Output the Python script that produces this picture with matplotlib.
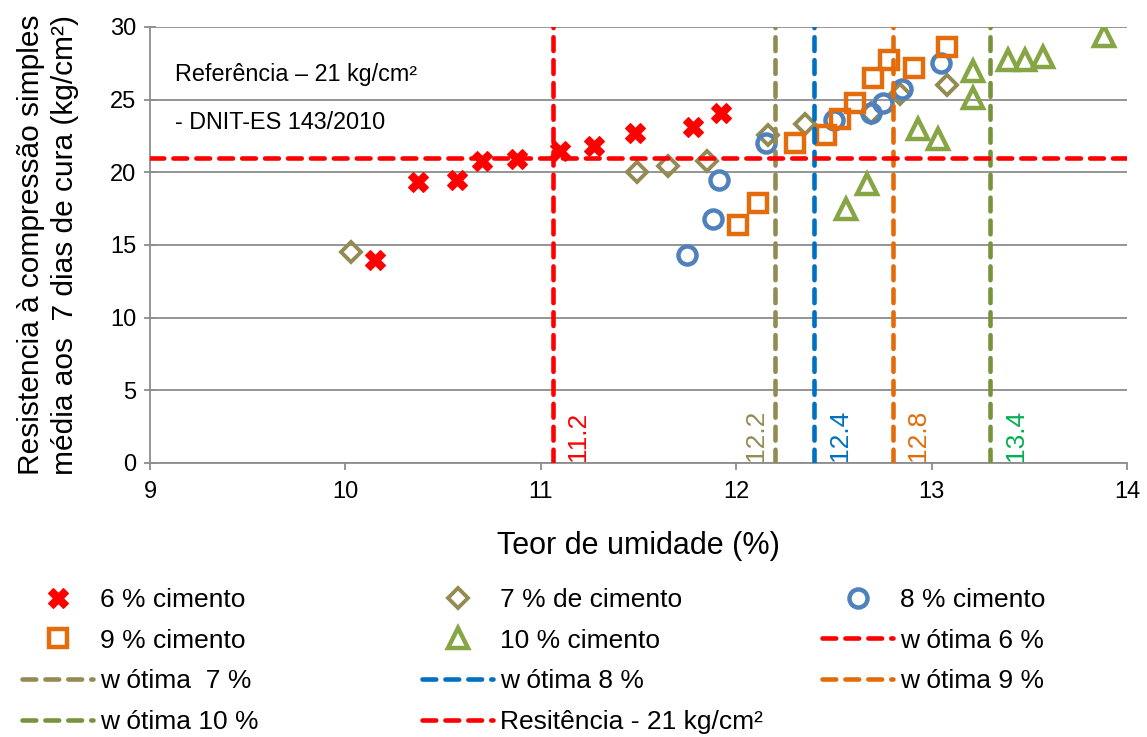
import matplotlib.pyplot as plt
from matplotlib.lines import Line2D

plt.rcParams['font.family'] = ['Liberation Sans', 'DejaVu Sans']

# ------------------------------------------------------------------------
# data
x6 = [10.15, 10.37, 10.57, 10.70, 10.88, 11.10, 11.27, 11.48, 11.78, 11.92]
y6 = [14.0, 19.3, 19.5, 20.8, 20.9, 21.5, 21.8, 22.7, 23.1, 24.1]

x7 = [10.03, 11.49, 11.65, 11.85, 12.16, 12.35, 12.69, 12.84, 13.08]
y7 = [14.5, 20.0, 20.4, 20.8, 22.6, 23.3, 24.1, 25.4, 26.0]

x8 = [11.75, 11.88, 11.91, 12.15, 12.50, 12.69, 12.75, 12.85, 13.05]
y8 = [14.3, 16.8, 19.5, 22.0, 23.6, 24.1, 24.8, 25.7, 27.5]

x9 = [12.01, 12.11, 12.30, 12.46, 12.53, 12.61, 12.70, 12.78, 12.91, 13.08]
y9 = [16.4, 17.9, 22.0, 22.6, 23.7, 24.8, 26.5, 27.7, 27.2, 28.6]

x10 = [12.56, 12.67, 12.93, 13.03, 13.21, 13.21, 13.39, 13.48, 13.57, 13.88]
y10 = [17.5, 19.2, 23.0, 22.3, 25.1, 27.0, 27.7, 27.7, 27.9, 29.4]

w_otima = [11.06, 12.2, 12.4, 12.8, 13.3]
w_text = ['11.2', '12.2', '12.4', '12.8', '13.4']
w_names = ['w ótima 6 %', 'w ótima  7 %', 'w ótima 8 %', 'w ótima 9 %', 'w ótima 10 %']
resistencia = 21

# ------------------------------------------------------------------------
RED = '#FF0000'
OLIVE = '#948A54'
BLUE = '#4F81BD'
ORANGE = '#E46C0A'
GREEN = '#86A544'
line_cols = [RED, OLIVE, '#0070C0', '#E36C09', '#77933C']
text_cols = [RED, OLIVE, '#0070C0', '#E36C09', '#00B050']

fig = plt.figure(figsize=(11.47, 7.37), dpi=100)
ax = fig.add_axes([0.1308, 0.3718, 0.8518, 0.5916])

h6, = ax.plot(x6, y6, 'X', ls='none', color=RED, ms=15, mec=RED, mew=0.8,
              label='6 % cimento')
h7, = ax.plot(x7, y7, 'D', ls='none', mfc='none', mec=OLIVE, ms=10, mew=2.8,
              label='7 % de cimento')
h8, = ax.plot(x8, y8, 'o', ls='none', mfc='none', mec=BLUE, ms=13, mew=3.2,
              label='8 % cimento')
h9, = ax.plot(x9, y9, 's', ls='none', mfc='none', mec=ORANGE, ms=13.5, mew=3.2,
              label='9 % cimento')
h10, = ax.plot(x10, y10, '^', ls='none', mfc='none', mec=GREEN, ms=14, mew=3.2,
               label='10 % cimento')

dash = (3, 2.0)
wl = []
for w, name, c in zip(w_otima, w_names, line_cols):
    l, = ax.plot([w, w], [0, 30], ls='--', dashes=dash, color=c, lw=3.3,
                 dash_capstyle='round', label=name, zorder=4)
    wl.append(l)
hr = ax.axhline(resistencia, ls='--', dashes=dash, color=RED, lw=3.3,
                dash_capstyle='round', label='Resitência - 21 kg/cm²', zorder=4)

# value labels next to the vertical lines
for i, (w, t, c) in enumerate(zip(w_otima, w_text, text_cols)):
    if i == 1:
        ax.text(w - 0.04, 0.15, t, rotation=90, color=c, fontsize=19,
                ha='right', va='bottom')
    else:
        ax.text(w + 0.07, 0.15, t, rotation=90, color=c, fontsize=19,
                ha='left', va='bottom')

ax.text(0.026, 0.89, 'Referência – 21 kg/cm²', transform=ax.transAxes,
        fontsize=16.8, va='center', ha='left')
ax.text(0.026, 0.782, '- DNIT-ES 143/2010', transform=ax.transAxes,
        fontsize=16.8, va='center', ha='left')

ax.set_xlim(9, 14)
ax.set_ylim(0, 30)
ax.set_xticks(range(9, 15))
ax.set_yticks(range(0, 31, 5))
ax.yaxis.grid(True, color='#8c8c8c', lw=1.3)
ax.set_axisbelow(True)
for s in ['top', 'right']:
    ax.spines[s].set_visible(False)
for s in ['left', 'bottom']:
    ax.spines[s].set_color('#8c8c8c')
    ax.spines[s].set_linewidth(1.3)
ax.tick_params(axis='both', labelsize=17, color='#8c8c8c', width=1.3, length=5)
ax.tick_params(axis='x', pad=8)
ax.tick_params(axis='y', direction='inout', length=8, pad=6)

ax.set_xlabel('Teor de umidade (%)', fontsize=22, labelpad=20)
ax.set_ylabel('Resistencia à compressão simples\nmédia aos  7 dias de cura (kg/cm²)',
              fontsize=21.5, labelpad=22, linespacing=1.3)

# ------------------------------------------------------------------------
# legend below, three columns
cols = [[h6, h9, wl[1], wl[4]],
        [h7, h10, wl[2], hr],
        [h8, wl[0], wl[3]]]
xpos = [22, 422, 822]
for hs, xp in zip(cols, xpos):
    fig.legend(handles=hs, loc='upper left', bbox_to_anchor=(xp / 1147, 1 - 588 / 737),
               frameon=False, fontsize=19, numpoints=1, handlelength=2.7,
               handletextpad=0.25, labelspacing=0.63, borderpad=0,
               borderaxespad=0)

fig.savefig('out.png', dpi=100)
